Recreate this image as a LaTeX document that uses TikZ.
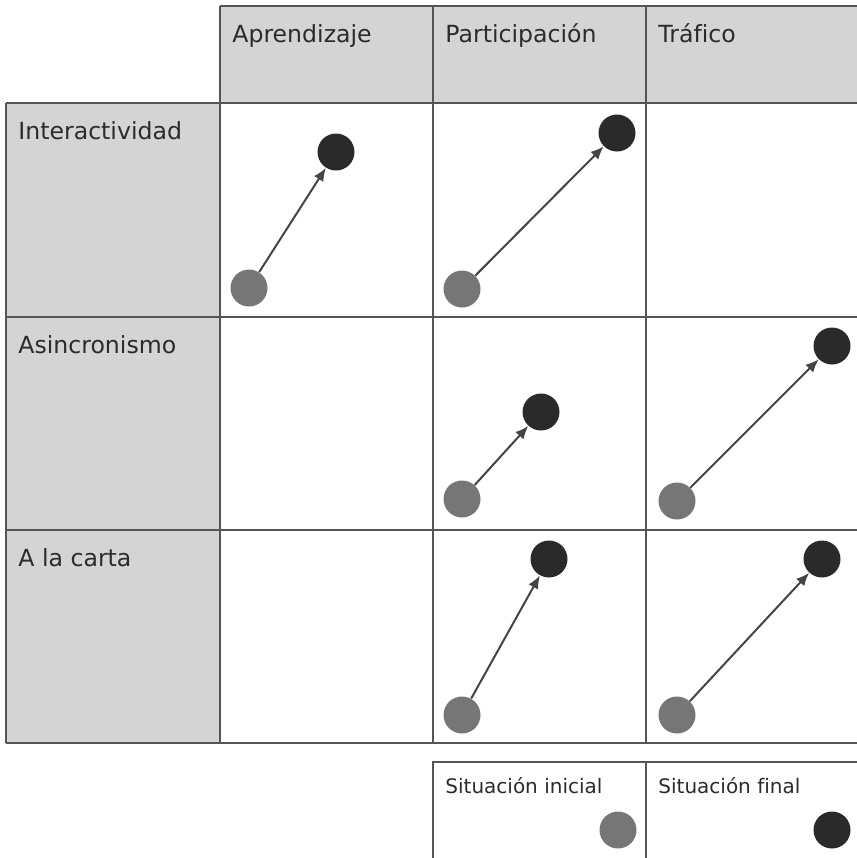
\documentclass[tikz,border=0pt]{standalone}
\usepackage{fontspec}
\setmainfont[Ligatures=NoCommon]{DejaVu Sans}
\usetikzlibrary{arrows.meta}

\definecolor{cellgray}{HTML}{D4D4D4}
\definecolor{rulegray}{HTML}{555555}
\definecolor{textgray}{HTML}{2B2B2B}
\definecolor{startgray}{HTML}{767676}
\definecolor{endgray}{HTML}{2A2A2A}
\definecolor{arrowgray}{HTML}{444444}

\tikzset{
    rule/.style={draw=rulegray, line width=0.8pt},
    headtext/.style={anchor=base west, inner sep=0pt, text=textgray,
        font=\fontsize{11.8}{14}\selectfont},
    keytext/.style={anchor=base west, inner sep=0pt, text=textgray,
        font=\fontsize{10}{12}\selectfont},
    startdot/.style={circle, fill=startgray, minimum size=18.5pt, inner sep=0pt},
    enddot/.style={circle, fill=endgray, minimum size=18.5pt, inner sep=0pt},
    move/.style={draw=arrowgray, line width=1pt, -{Latex[length=6.5pt,width=5.5pt]}},
}

\begin{document}
\begin{tikzpicture}[x=0.5pt, y=-0.5pt]
    \useasboundingbox (0,0) rectangle (857,858);

    % Draw Grid
    \fill[cellgray] (220,6) rectangle (857,103);
    \fill[cellgray] (6,103) rectangle (220,743);
    \draw[rule] (220,6) -- (857,6);
    \foreach \y in {103, 317, 530, 743}{
        \draw[rule] (6,\y) -- (857,\y);
    }
    \draw[rule] (6,103) -- (6,743);
    \foreach \x in {220, 433, 646}{
        \draw[rule] (\x,6) -- (\x,743);
    }

    % Headers
    \node[headtext] (h1) at (232,42) {Aprendizaje};
    \node[headtext] (h2) at (445,42) {Participación};
    \node[headtext] (h3) at (658,42) {Tráfico};
    \node[headtext] (r1) at (18,139) {Interactividad};
    \node[headtext] (r2) at (18,353) {Asincronismo};
    \node[headtext] (r3) at (18,566) {A la carta};

    % Add Points
    \node[startdot] (s11) at (249,288) {};
    \node[enddot]   (e11) at (336,152) {};
    \node[startdot] (s12) at (462,289) {};
    \node[enddot]   (e12) at (617,133) {};
    \node[startdot] (s22) at (462,499) {};
    \node[enddot]   (e22) at (541,412) {};
    \node[startdot] (s23) at (677,501) {};
    \node[enddot]   (e23) at (832,346) {};
    \node[startdot] (s32) at (462,715) {};
    \node[enddot]   (e32) at (549,559) {};
    \node[startdot] (s33) at (677,715) {};
    \node[enddot]   (e33) at (822,559) {};

    % Draw Moves
    \foreach \a/\b in {s11/e11, s12/e12, s22/e22, s23/e23, s32/e32, s33/e33}{
        \draw[move] (\a) -- (\b);
    }

    % Legend
    \draw[rule] (433,858) -- (433,762) -- (857,762);
    \draw[rule] (646,762) -- (646,858);
    \node[keytext] (k1) at (445,793) {Situación inicial};
    \node[keytext] (k2) at (658,793) {Situación final};
    \node[startdot] (ks) at (618,830) {};
    \node[enddot]   (ke) at (832,830) {};
\end{tikzpicture}
\end{document}
